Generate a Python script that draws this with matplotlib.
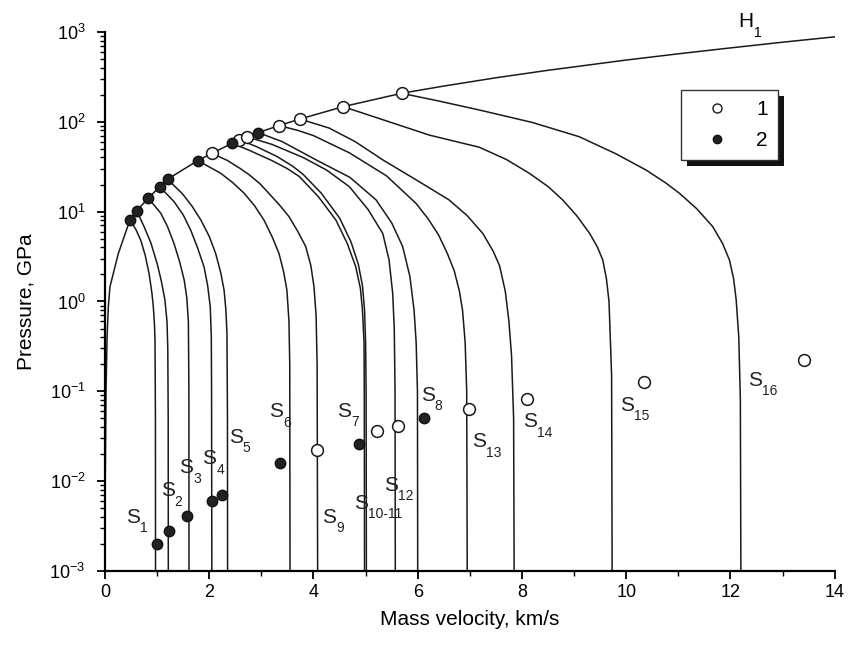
## shock Hugoniot H1 with release isentropes S1..S16 (log pressure vs mass velocity)
import matplotlib
matplotlib.use('Agg')
import matplotlib.pyplot as plt
from matplotlib.lines import Line2D
from matplotlib.patches import Rectangle
from matplotlib.ticker import MultipleLocator, LogLocator, NullFormatter

plt.rcParams['font.family'] = ['Liberation Sans', 'DejaVu Sans']
plt.rcParams['mathtext.default'] = 'regular'

# Hugoniot H1
h1_u = [0.0005, 0.005, 0.02, 0.04, 0.064, 0.096, 0.255, 0.48, 0.61, 0.83, 1.05, 1.20, 1.78,
        2.05, 2.44, 2.58, 2.72, 2.94, 3.34, 3.74, 4.57, 5.69, 6.5, 7.5, 8.5, 10.0,
        11.0, 12.0, 13.0, 14.0]
h1_p = [0.001, 0.01, 0.1, 0.4, 0.87, 1.46, 3.4, 8.1, 10.2, 14.1, 18.9, 22.9, 36.9,
        44.5, 57.5, 63, 68, 75.6, 90.6, 107, 147, 207, 249, 308, 373, 485,
        569, 662, 766, 879]

# release isentropes
s1_u = [0.48, 0.60, 0.686, 0.77, 0.845, 0.90, 0.928, 0.95, 0.96, 0.968, 0.97]
s1_p = [8.1, 6.2, 4.8, 3.3, 2.06, 1.25, 0.87, 0.55, 0.37, 0.05, 0.001]
s2_u = [0.61, 0.75, 0.88, 1.0, 1.08, 1.15, 1.19, 1.205, 1.213, 1.215]
s2_p = [10.2, 6.8, 4.5, 2.65, 1.7, 1.04, 0.6, 0.3, 0.05, 0.001]
s3_u = [0.83, 1.07, 1.2, 1.325, 1.43, 1.52, 1.57, 1.6, 1.61, 1.612]
s3_p = [14.1, 9.6, 6.8, 4.4, 2.8, 1.73, 1.1, 0.6, 0.1, 0.001]
s4_u = [1.05, 1.325, 1.5, 1.646, 1.78, 1.9, 1.97, 2.02, 2.04, 2.045, 2.05]
s4_p = [18.9, 12.9, 9.2, 6.2, 3.9, 2.43, 1.5, 0.87, 0.4, 0.1, 0.001]
s5_u = [1.20, 1.485, 1.67, 1.84, 2.0, 2.125, 2.22, 2.285, 2.32, 2.34, 2.35, 2.352]
s5_p = [22.9, 15.8, 11.5, 8.05, 5.3, 3.4, 2.1, 1.34, 0.8, 0.45, 0.05, 0.001]
s6_u = [1.78, 2.22, 2.45, 2.67, 2.87, 3.05, 3.21, 3.34, 3.43, 3.49, 3.53, 3.545, 3.55]
s6_p = [36.9, 26.7, 21, 16, 11.6, 8.05, 5.2, 3.4, 2.1, 1.34, 0.6, 0.2, 0.001]
s9_u = [2.05, 2.35, 2.6, 2.77, 2.97, 3.15, 3.35, 3.53, 3.7, 3.85, 3.95, 4.01, 4.05, 4.07, 4.08]
s9_p = [44.5, 37, 30, 25.6, 20.5, 15.8, 11.8, 8.8, 6.0, 4.1, 2.5, 1.46, 0.7, 0.2, 0.001]
s7_u = [2.44, 2.77, 3.2, 3.5, 3.73, 4.1, 4.43, 4.65, 4.81, 4.9, 4.94, 4.97, 4.975, 4.98]
s7_p = [57.5, 48, 37, 30, 24.5, 14.5, 8.05, 4.4, 2.44, 1.4, 0.8, 0.35, 0.1, 0.001]
s10_u = [2.58, 2.9, 3.3, 3.6, 3.8, 4.15, 4.5, 4.72, 4.86, 4.94, 4.98, 5.0, 5.01, 5.015]
s10_p = [63, 53, 41, 32, 26, 16, 8.5, 4.6, 2.6, 1.5, 0.8, 0.35, 0.1, 0.001]
s12_u = [2.72, 3.2, 3.8, 4.25, 4.69, 5.05, 5.33, 5.45, 5.52, 5.55, 5.565, 5.57]
s12_p = [68, 56, 40, 29, 18.9, 10.5, 5.7, 2.9, 1.23, 0.5, 0.1, 0.001]
s8_u = [2.94, 3.4, 4.05, 4.7, 5.2, 5.5, 5.71, 5.85, 5.93, 5.97, 5.995, 6.0]
s8_p = [75.6, 60, 37.6, 24, 13.5, 7.5, 4.1, 1.9, 0.8, 0.35, 0.1, 0.001]
s13_u = [3.34, 3.7, 4.0, 4.69, 5.4, 5.97, 6.2, 6.4, 6.57, 6.7, 6.8, 6.86, 6.91, 6.94, 6.95]
s13_p = [90.6, 80, 70, 45, 25, 12.3, 8.3, 5.5, 3.4, 2.2, 1.3, 0.8, 0.35, 0.1, 0.001]
s14_u = [3.74, 4.3, 4.8, 5.33, 6.0, 6.6, 6.95, 7.25, 7.45, 7.57, 7.68, 7.75, 7.8, 7.84, 7.85]
s14_p = [107, 85, 60, 37.6, 22, 13.5, 9.0, 5.7, 3.6, 2.5, 1.3, 0.6, 0.25, 0.05, 0.001]
s15_u = [4.57, 5.4, 6.22, 7.18, 7.7, 8.14, 8.5, 8.78, 9.05, 9.3, 9.45, 9.55, 9.62, 9.67, 9.72, 9.73]
s15_p = [147, 102, 71, 52, 38, 26.7, 19, 13.5, 9.0, 5.7, 4.0, 2.9, 1.8, 1.0, 0.15, 0.001]
s16_u = [5.69, 6.4, 7.18, 8.2, 9.10, 9.8, 10.38, 10.75, 11.02, 11.35, 11.66, 11.85, 11.98,
         12.06, 12.11, 12.16, 12.19, 12.2]
s16_p = [207, 170, 135, 98, 68, 44, 29, 21, 16, 10.8, 6.8, 4.4, 2.9, 1.8, 1.04, 0.4, 0.08, 0.001]

# measured points: 1 = open, 2 = filled
open_u = [2.05, 2.58, 2.72, 3.34, 3.74, 4.57, 5.69, 4.07, 5.21, 5.63, 6.99, 8.09, 10.35, 13.42]
open_p = [44.5, 63, 68, 90.6, 107, 147, 207, 0.022, 0.036, 0.041, 0.063, 0.083, 0.128, 0.226]
filled_u = [0.48, 0.61, 0.83, 1.05, 1.20, 1.78, 2.44, 2.94, 1.0, 1.23, 1.57, 2.05, 2.24, 3.36, 4.88, 6.13]
filled_p = [8.1, 10.2, 14.1, 18.9, 22.9, 36.9, 57.5, 75.6, 0.0020, 0.0028, 0.0041, 0.0060, 0.0070, 0.016, 0.026, 0.050]

# curve labels (left edge of the S, vertical centre of the S)
lab_names = ['1', '2', '3', '4', '5', '6', '7', '8', '9', '10-11', '12', '13', '14', '15', '16']
lab_u = [0.40, 1.07, 1.43, 1.87, 2.38, 3.15, 4.46, 6.06, 4.17, 4.78, 5.36, 7.05, 8.03, 9.88, 12.34]
lab_p = [0.0040, 0.0079, 0.0141, 0.0178, 0.031, 0.059, 0.060, 0.091, 0.0040, 0.0057, 0.0090, 0.0275, 0.046, 0.070, 0.133]

fig = plt.figure(figsize=(8.5, 6.49), dpi=100)
ax = fig.add_axes([0.1235, 0.120, 0.8585, 0.831])

lc = '#1a1a1a'
ax.plot(h1_u, h1_p, color=lc, lw=1.1)
curves = [(s1_u, s1_p), (s2_u, s2_p), (s3_u, s3_p), (s4_u, s4_p), (s5_u, s5_p), (s6_u, s6_p),
          (s9_u, s9_p), (s7_u, s7_p), (s10_u, s10_p), (s12_u, s12_p), (s8_u, s8_p),
          (s13_u, s13_p), (s14_u, s14_p), (s15_u, s15_p), (s16_u, s16_p)]
for cu, cp in curves:
    ax.plot(cu, cp, color=lc, lw=1.1)

ax.plot(open_u, open_p, 'o', ms=8.5, mfc='white', mec=lc, mew=1.1, ls='none', zorder=4)
ax.plot(filled_u, filled_p, 'o', ms=7.5, mfc='#222222', mec='#111111', mew=1.0, ls='none', zorder=4)

# S labels: letter + lowered subscript
for name, u, p in zip(lab_names, lab_u, lab_p):
    ax.text(u, p, 'S', fontsize=15, ha='left', va='center', color='#222222')
    ax.annotate(name, (u, p), xytext=(10, -8), textcoords='offset points',
                fontsize=10, ha='left', va='center', color='#222222')

ax.text(12.14, 1290, 'H', fontsize=15, ha='left', va='center', clip_on=False)
ax.annotate('1', (12.14, 1290), xytext=(11.5, -8), textcoords='offset points',
            fontsize=10, ha='left', va='center', annotation_clip=False)

ax.set_yscale('log')
ax.set_xlim(0, 14)
ax.set_ylim(1e-3, 1e3)
ax.spines['top'].set_visible(False)
ax.spines['right'].set_visible(False)
ax.spines['left'].set_linewidth(1.6)
ax.spines['bottom'].set_linewidth(1.6)

ax.xaxis.set_major_locator(MultipleLocator(2))
ax.xaxis.set_minor_locator(MultipleLocator(1))
ax.yaxis.set_major_locator(LogLocator(base=10, numticks=10))
ax.yaxis.set_minor_locator(LogLocator(base=10, subs=range(2, 10), numticks=10))
ax.yaxis.set_minor_formatter(NullFormatter())
ax.tick_params(which='major', direction='out', length=6, width=1.3, labelsize=13)
ax.tick_params(which='minor', direction='out', length=3.5, width=1.0)
ax.tick_params(axis='y', which='major', pad=8)
ax.xaxis.get_offset_text().set_visible(False)
ax.yaxis.get_offset_text().set_visible(False)

ax.set_xlabel('Mass velocity, km/s', fontsize=15, labelpad=6)
ax.set_ylabel('Pressure, GPa', fontsize=15, labelpad=10)

handles = [Line2D([], [], marker='o', ls='none', ms=6.5, mfc='white', mec=lc, mew=1.0),
           Line2D([], [], marker='o', ls='none', ms=6.0, mfc='#222222', mec='#111111')]
leg = ax.legend(handles, ['1', '2'], loc='upper left', bbox_to_anchor=(0.79, 0.892),
                borderaxespad=0, fontsize=15, frameon=True, fancybox=False, framealpha=1,
                edgecolor='#333333', borderpad=0.5, handlelength=2.4, handletextpad=0.7,
                labelspacing=0.55)
leg.get_frame().set_linewidth(1.0)

# solid black drop shadow under the legend box
fig.canvas.draw()
bb = leg.get_window_extent().transformed(fig.transFigure.inverted())
dx, dy = 6 / 850, 6 / 649
ax.add_patch(Rectangle((bb.x0 + dx, bb.y0 - dy), bb.width, bb.height, transform=fig.transFigure,
                       facecolor='#111111', edgecolor='none', zorder=4.5, clip_on=False))

fig.savefig('out.png', dpi=100)
